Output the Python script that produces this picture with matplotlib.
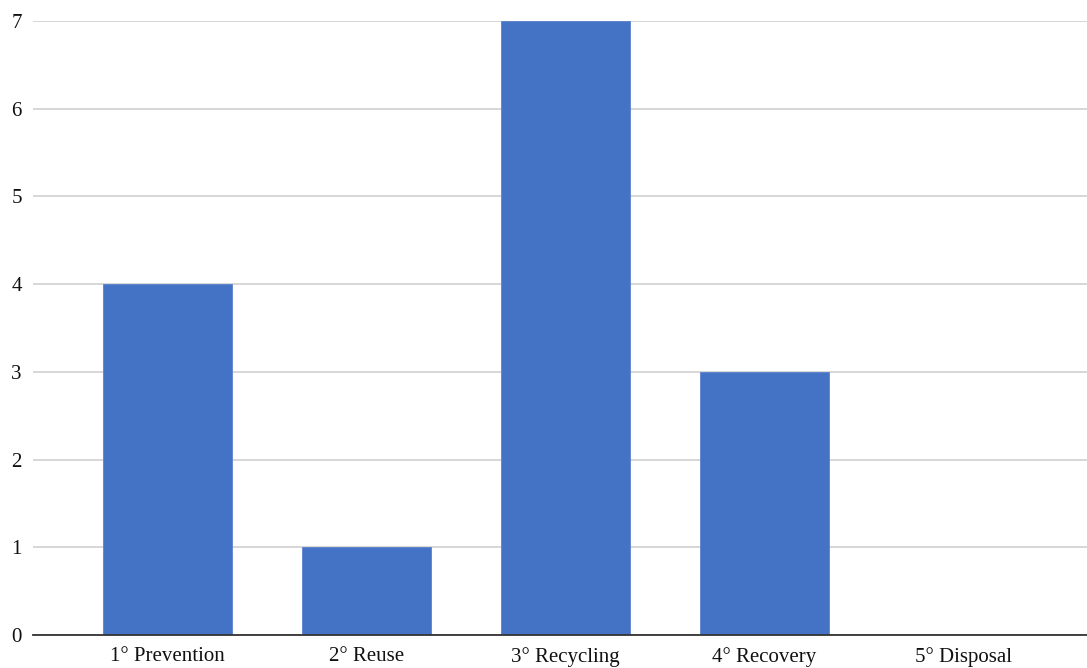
import matplotlib.pyplot as plt
import numpy as np

categories = ["1° Prevention", "2° Reuse", "3° Recycling", "4° Recovery", "5° Disposal"]
counts = [4, 1, 7, 3, 0]

plt.rcParams['font.family'] = ['Liberation Serif', 'DejaVu Serif']

W, H = 1087, 668
fig = plt.figure(figsize=(W / 100, H / 100), dpi=100)
ax = fig.add_axes([33 / W, (H - 635) / H, (1087 - 33) / W, (635 - 21) / H])

x = np.arange(len(categories))
ax.bar(x, counts, width=0.65, color="#4472C4", edgecolor="#5a82cc",
       linewidth=0.6, zorder=3)

ax.set_ylim(0, 7)
ax.set_xlim(-0.675, 4.62)
ax.set_yticks(range(0, 8))
ax.set_xticks(x)
ax.set_xticklabels(categories)
ax.yaxis.grid(True, color="#d3d3d3", linewidth=1.3, zorder=0)
ax.tick_params(axis="both", length=0, labelsize=15, colors="#111111")
ax.tick_params(axis="x", pad=8.5)
ax.tick_params(axis="y", pad=8)

for s in ["top", "right", "left"]:
    ax.spines[s].set_visible(False)
ax.spines["bottom"].set_color("#333333")
ax.spines["bottom"].set_linewidth(1.3)
ax.spines["bottom"].set_zorder(4)

fig.savefig("out.png", dpi=100)
